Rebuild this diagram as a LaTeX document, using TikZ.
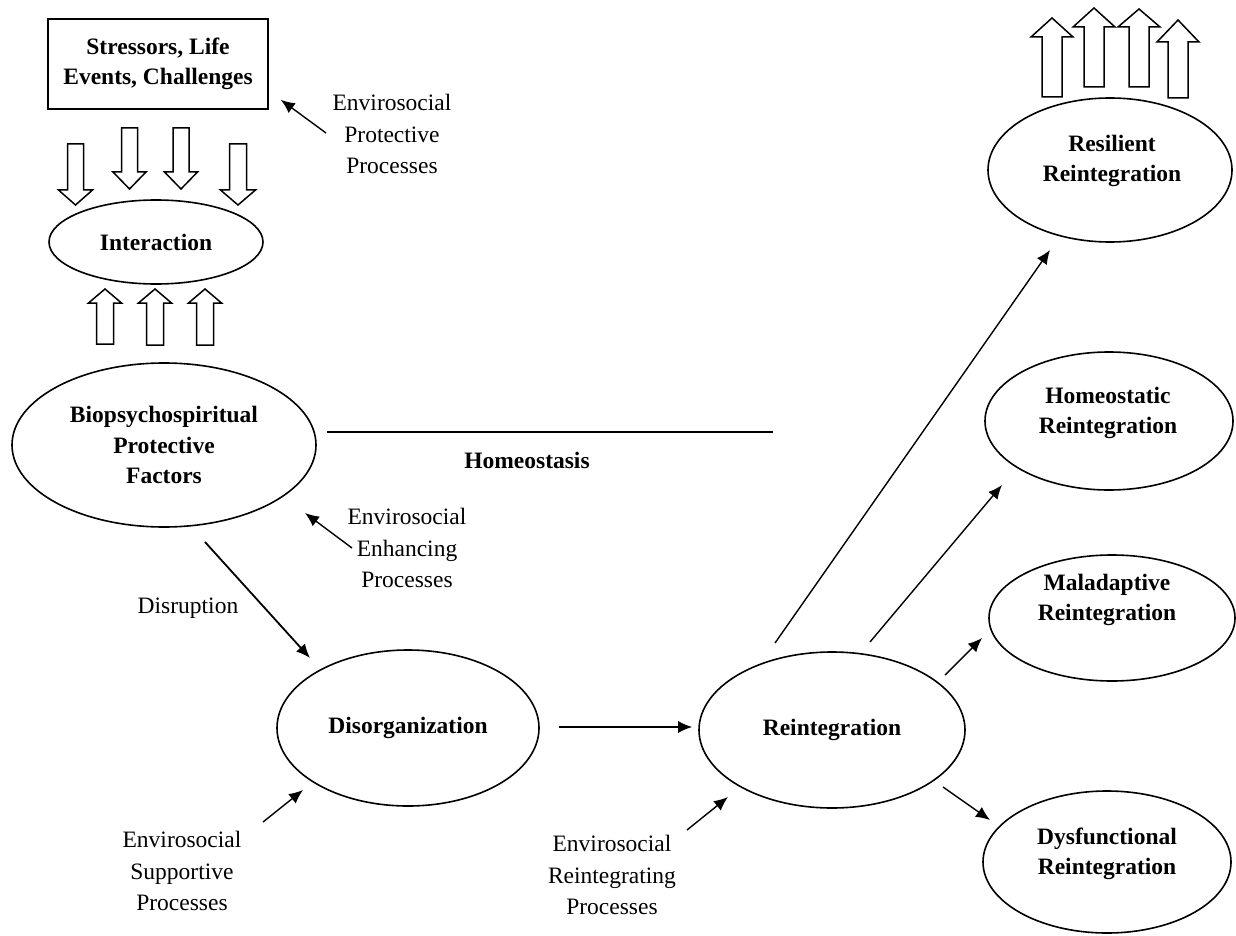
\documentclass[tikz,border=0pt]{standalone}
\usepackage{fontspec}
\setmainfont{Liberation Serif}
\usetikzlibrary{calc,shapes.geometric,arrows.meta}
% x, y of tail, y of head base, y of apex, shaft half width, head half width
\newcommand\hollowarrow[6]{%
  \draw[blockarrow] (#1-#5,#2) -- (#1+#5,#2) -- (#1+#5,#3) -- (#1+#6,#3) -- (#1,#4)
    -- (#1-#6,#3) -- (#1-#5,#3) -- cycle;}
\tikzset{
  title/.style={font=\fontsize{11.75}{15.3}\selectfont\bfseries, align=center, inner sep=0pt},
  note/.style={font=\fontsize{11.75}{15.6}\selectfont, align=center, inner sep=0pt},
  oval/.style={draw, ellipse, line width=0.8pt, inner sep=0pt},
  arr/.style={-{Latex[length=7pt,width=6pt]}, line width=0.7pt},
  plainline/.style={line width=0.8pt},
  blockarrow/.style={draw, line width=0.75pt, fill=white, line join=miter},
}
\begin{document}
\begin{tikzpicture}[x=0.5pt,y=-0.5pt]
\fill[white] (0,0) rectangle (1236,936);
\useasboundingbox (0,0) rectangle (1236,936);

% main shapes
\node[draw, line width=0.8pt, minimum width=110pt, minimum height=45pt, title] (stress) at (158,64)
  {Stressors, Life\\Events, Challenges};
\node[oval, minimum width=107pt, minimum height=42pt, title] (inter) at (156,242) {Interaction};
\node[oval, minimum width=152pt, minimum height=82pt, title] (bio) at (164,445)
  {Biopsychospiritual\\Protective\\Factors};
\node[oval, minimum width=131pt, minimum height=78pt, title] (disorg) at (408,728) {Disorganization};
\node[oval, minimum width=133pt, minimum height=78pt, title] (reint) at (832,730) {Reintegration};

\node[oval, minimum width=122pt, minimum height=72pt] (resil) at (1110,170) {};
\node[oval, minimum width=124pt, minimum height=69pt] (homeo) at (1109,421) {};
\node[oval, minimum width=123pt, minimum height=63pt] (malad) at (1112,618) {};
\node[oval, minimum width=124pt, minimum height=71pt] (dysf) at (1107,862) {};

\node[title] (resiltxt) at (1112,161) {Resilient\\Reintegration};
\node[title] (homeotxt) at (1108,413) {Homeostatic\\Reintegration};
\node[title] (maladtxt) at (1107,600) {Maladaptive\\Reintegration};
\node[title] (dysftxt) at (1107,854) {Dysfunctional\\Reintegration};

\node[title] (homeostasis) at (527,460) {Homeostasis};
\node[note] (disruption) at (188,608) {Disruption};
\node[note] (envprot) at (392,134) {Envirosocial\\Protective\\Processes};
\node[note] (envenh) at (407,548) {Envirosocial\\Enhancing\\Processes};
\node[note] (envsup) at (182,871) {Envirosocial\\Supportive\\Processes};
\node[note] (envreint) at (612,875) {Envirosocial\\Reintegrating\\Processes};

% homeostasis line
\coordinate (hl) at (327,432);
\coordinate (hr) at (773,432);
\draw[plainline] (hl) -- (hr);

% hollow arrows: stressors down to interaction
\hollowarrow{75.5}{144}{190}{205}{8}{17}
\hollowarrow{129.5}{128}{172}{189}{8}{16.5}
\hollowarrow{181}{128}{172}{189}{8}{16.5}
\hollowarrow{238}{144}{190}{205}{8.5}{17.5}
% hollow arrows: factors up to interaction
\hollowarrow{105}{344}{303}{289}{8.5}{16.5}
\hollowarrow{155}{345}{303}{289}{8.5}{16.5}
\hollowarrow{205}{345}{303}{289}{8.5}{16.5}
% hollow arrows above resilient reintegration
\hollowarrow{1052}{97}{37}{18}{10}{21}
\hollowarrow{1094}{87}{27}{8}{10}{21}
\hollowarrow{1139}{87}{27}{9}{10}{21}
\hollowarrow{1178}{98}{42}{20}{10}{21}

% connectors
\draw[arr] ($(envprot)+(-66,-1)$) -- ($(stress.south east)+(12,-10)$);
\draw[arr] ($(envenh)+(-55,0)$) -- ($(bio)+(141,68)$);
\draw[arr, line width=0.9pt] ($(bio)+(41,97)$) -- ($(disorg)+(-98,-70)$);
\draw[arr] ($(envsup)+(81,-49)$) -- ($(disorg)+(-105,62)$);
\draw[arr] ($(disorg.east)+(19,-1)$) -- ($(reint.west)+(-6,-3)$);
\draw[arr] ($(envreint)+(75,-45)$) -- ($(reint)+(-104,67)$);
\draw[arr] ($(reint)+(-57,-87)$) -- ($(resil)+(-60,80)$);
\draw[arr] ($(reint)+(38,-88)$) -- ($(homeo)+(-107,64)$);
\draw[arr] ($(reint)+(113,-55)$) -- ($(malad)+(-130,20)$);
\draw[arr] ($(reint)+(111,57)$) -- ($(dysf)+(-117,-42)$);
\end{tikzpicture}
\end{document}
